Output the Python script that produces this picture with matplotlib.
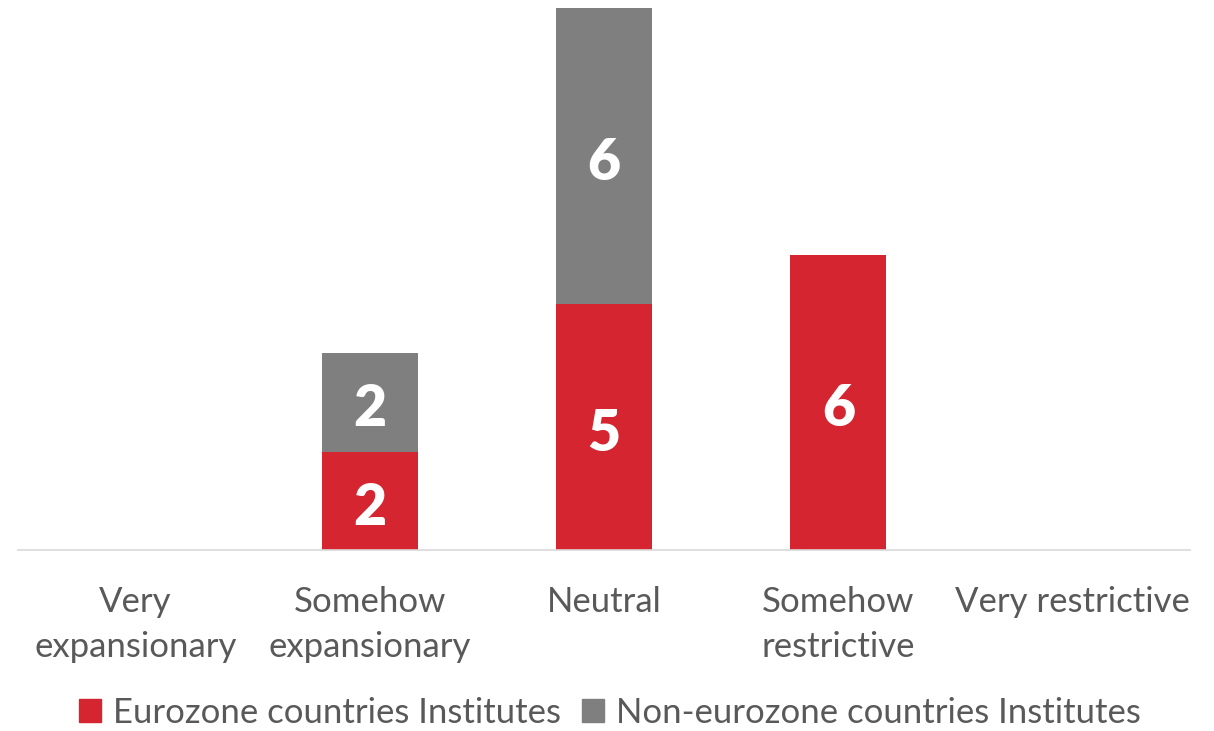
import matplotlib.pyplot as plt
from matplotlib.patches import Patch

categories = ["Very\nexpansionary", "Somehow\nexpansionary", "Neutral",
              "Somehow\nrestrictive", "Very restrictive"]
eurozone = [0, 2, 5, 6, 0]
non_eurozone = [0, 2, 6, 0, 0]
series_names = ["Eurozone countries Institutes", "Non-eurozone countries Institutes"]

RED = "#D42530"
GREY = "#7F7F7F"
TEXT = "#595959"

plt.rcParams["font.family"] = ["Lato", "DejaVu Sans"]

fig = plt.figure(figsize=(12.14, 7.31), dpi=100)
ax = fig.add_axes([18 / 1214, 181 / 731, 1172 / 1214, 549 / 731])

x = range(len(categories))
width = 0.41
b1 = ax.bar(x, eurozone, width, color=RED)
b2 = ax.bar(x, non_eurozone, width, bottom=eurozone, color=GREY)

for bars, vals, bottoms in ((b1, eurozone, [0] * 5), (b2, non_eurozone, eurozone)):
    for rect, v, b in zip(bars, vals, bottoms):
        if v:
            ax.annotate(str(v), (rect.get_x() + rect.get_width() / 2, b + v / 2),
                        xytext=(0, -7), textcoords="offset pixels",
                        ha="center", va="center", color="white",
                        fontsize=41, fontweight="heavy")

ax.set_xlim(-0.5, 4.5)
ax.set_ylim(0, 11.15)
ax.set_yticks([])
ax.set_xticks(list(x))
ax.set_xticklabels(categories, fontsize=25, color=TEXT, linespacing=1.5)
ax.tick_params(axis="x", length=0, pad=26)
for side in ("top", "right", "left"):
    ax.spines[side].set_visible(False)
ax.spines["bottom"].set_color("#D9D9D9")
ax.spines["bottom"].set_linewidth(1.2)

handles = [Patch(color=RED), Patch(color=GREY)]
fig.legend(handles, series_names, loc="center", bbox_to_anchor=(610 / 1214, 1 - 713 / 731),
           ncol=2, frameon=False, fontsize=25, labelcolor=TEXT,
           handlelength=0.63, handleheight=0.63, handletextpad=0.35, columnspacing=0.6)

fig.savefig("out.png", dpi=100)
